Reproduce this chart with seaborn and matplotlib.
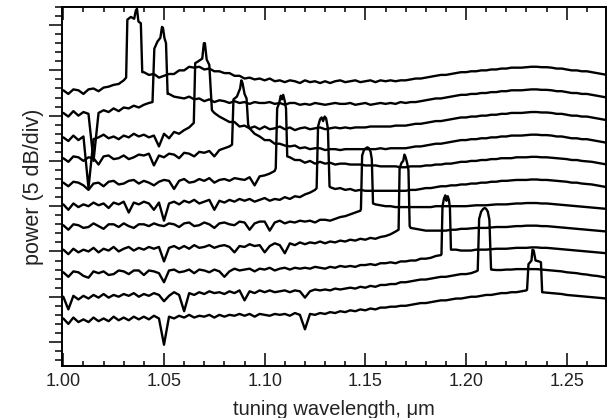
import numpy as np
import pandas as pd
import matplotlib
matplotlib.use("Agg")
import matplotlib.pyplot as plt
from matplotlib.ticker import MultipleLocator, FormatStrFormatter
import seaborn as sns

# sampling grid of the traces (tuning wavelength, um)
wavelength = np.round(np.arange(1.000, 1.27001, 0.0025), 4)

# background of each trace (dB, traces offset for display), rows of 0.01 um
trace_0 = [27.8, 27.4, 27.9, 27.8, 27.4, 27.9, 28.0, 27.7, 28.1, 28.2, 28.4, 28.5,
           28.9, 29.2, 29.4, 29.6, 29.8, 29.5, 29.6, 29.2, 29.4, 29.6, 29.6, 30.0,
           30.0, 30.4, 30.3, 30.4, 30.1, 30.2, 29.9, 29.9, 29.7, 29.7, 29.4, 29.4,
           29.1, 29.2, 29.0, 29.1, 28.9, 29.1, 28.8, 28.9, 28.7, 28.9, 28.8, 28.6,
           28.9, 28.7, 28.8, 28.6, 28.8, 28.6, 28.8, 28.9, 28.7, 28.8, 28.9, 28.7,
           28.8, 28.9, 28.7, 28.9, 28.8, 28.9, 28.8, 28.9, 28.9, 29.0, 29.1, 29.1,
           29.2, 29.3, 29.4, 29.5, 29.5, 29.6, 29.7, 29.8, 29.8, 29.9, 29.9, 30.0,
           30.0, 30.1, 30.1, 30.2, 30.2, 30.3, 30.3, 30.3, 30.35, 30.4, 30.4, 30.35,
           30.35, 30.3, 30.2, 30.2, 30.1, 30.0, 30.0, 29.9, 29.9, 29.8, 29.7, 29.6,
           29.5]
trace_1 = [25.3, 24.9, 25.5, 25.0, 25.4, 25.2, 20.0, 25.3, 25.6, 25.4, 25.8, 25.5,
           25.9, 25.8, 26.1, 25.9, 26.2, 26.4, 26.8, 27.0, 27.2, 27.4, 27.1, 27.0,
           26.9, 27.1, 26.8, 26.9, 26.6, 26.8, 26.5, 26.7, 26.6, 26.4, 26.6, 26.4,
           26.5, 26.3, 26.5, 26.4, 26.4, 26.5, 26.3, 26.4, 26.2, 26.4, 26.4, 26.2,
           26.3, 26.2, 26.4, 26.3, 26.2, 26.3, 26.4, 26.3, 26.3, 26.4, 26.2, 26.3,
           26.4, 26.2, 26.3, 26.4, 26.3, 26.4, 26.3, 26.5, 26.4, 26.5, 26.5, 26.6,
           26.7, 26.8, 26.9, 26.9, 27.0, 27.1, 27.2, 27.3, 27.3, 27.4, 27.4, 27.5,
           27.5, 27.6, 27.6, 27.7, 27.7, 27.8, 27.8, 27.8, 27.85, 27.9, 27.9, 27.85,
           27.85, 27.8, 27.7, 27.7, 27.6, 27.5, 27.5, 27.4, 27.4, 27.3, 27.2, 27.1,
           27.0]
trace_2 = [22.6, 22.2, 22.8, 22.3, 22.7, 17.0, 22.4, 22.6, 22.9, 22.5, 22.7, 22.4,
           22.8, 22.6, 23.0, 22.7, 22.9, 22.6, 22.8, 21.6, 23.0, 22.5, 23.2, 23.0,
           23.4, 23.7, 24.5, 26.0, 26.0, 26.0, 25.3, 24.9, 24.6, 24.3, 24.3, 23.8,
           23.9, 23.6, 23.8, 23.5, 23.8, 23.5, 23.6, 23.8, 23.5, 23.7, 23.4, 23.6,
           23.7, 23.5, 23.6, 23.7, 23.5, 23.6, 23.7, 23.6, 23.7, 23.6, 23.7, 23.7,
           23.7, 23.8, 23.8, 23.8, 23.8, 23.8, 23.9, 23.9, 23.9, 24.0, 24.1, 24.1,
           24.2, 24.3, 24.4, 24.4, 24.5, 24.6, 24.7, 24.8, 24.8, 24.9, 24.9, 25.0,
           25.0, 25.1, 25.1, 25.2, 25.2, 25.3, 25.3, 25.3, 25.35, 25.4, 25.4, 25.35,
           25.35, 25.3, 25.2, 25.2, 25.1, 25.0, 25.0, 24.9, 24.9, 24.8, 24.7, 24.6,
           24.5]
trace_3 = [20.3, 19.9, 20.5, 20.4, 20.0, 20.4, 20.3, 19.6, 20.5, 20.6, 20.2, 20.3,
           20.6, 20.2, 20.4, 20.7, 20.6, 20.8, 19.5, 20.6, 20.4, 20.8, 20.7, 20.3,
           20.9, 20.8, 20.5, 21.0, 20.9, 21.1, 20.5, 21.2, 21.4, 21.6, 22.0, 24.0,
           24.0, 23.6, 23.0, 22.7, 22.3, 22.3, 21.9, 21.9, 21.7, 21.6, 21.7, 21.4,
           21.5, 21.3, 21.4, 21.4, 21.2, 21.3, 21.3, 21.2, 21.3, 21.3, 21.3, 21.3,
           21.3, 21.3, 21.3, 21.4, 21.3, 21.4, 21.4, 21.4, 21.4, 21.5, 21.6, 21.6,
           21.7, 21.8, 21.9, 21.9, 22.0, 22.1, 22.2, 22.3, 22.3, 22.4, 22.4, 22.5,
           22.5, 22.6, 22.6, 22.7, 22.7, 22.8, 22.8, 22.8, 22.85, 22.9, 22.9, 22.85,
           22.85, 22.8, 22.7, 22.7, 22.6, 22.5, 22.5, 22.4, 22.4, 22.3, 22.2, 22.1,
           22.0]
trace_4 = [17.6, 17.2, 17.7, 17.6, 17.3, 16.8, 17.5, 17.6, 17.2, 17.7, 17.8, 17.4,
           17.5, 17.8, 17.9, 17.5, 17.8, 17.6, 17.3, 17.7, 17.9, 17.8, 16.9, 17.8,
           18.0, 17.6, 17.7, 18.0, 17.8, 18.1, 17.6, 17.9, 18.0, 17.8, 18.1, 18.0,
           17.9, 18.2, 17.3, 18.3, 18.4, 18.6, 18.9, 22.0, 22.0, 20.4, 20.1, 20.1,
           19.8, 20.0, 19.7, 19.9, 19.7, 19.8, 19.6, 19.7, 19.7, 19.6, 19.6, 19.6,
           19.5, 19.5, 19.5, 19.4, 19.4, 19.4, 19.4, 19.3, 19.3, 19.4, 19.4, 19.4,
           19.5, 19.5, 19.6, 19.6, 19.7, 19.7, 19.8, 19.9, 19.9, 20.0, 20.0, 20.1,
           20.1, 20.2, 20.2, 20.3, 20.3, 20.3, 20.4, 20.4, 20.4, 20.45, 20.45, 20.4,
           20.4, 20.35, 20.3, 20.25, 20.2, 20.1, 20.1, 20.0, 19.95, 19.9, 19.8, 19.7,
           19.6]
trace_5 = [15.2, 14.6, 15.3, 14.9, 15.2, 15.0, 15.4, 15.1, 15.3, 14.8, 15.4, 15.2,
           15.5, 14.3, 15.4, 15.2, 15.5, 15.3, 14.6, 15.4, 13.4, 15.3, 15.5, 15.2,
           15.6, 15.4, 15.7, 15.3, 15.5, 15.7, 14.6, 15.6, 15.4, 15.7, 15.5, 15.8,
           15.6, 15.8, 15.5, 15.7, 15.9, 15.6, 15.8, 15.7, 16.0, 15.8, 16.1, 16.0,
           16.3, 16.5, 16.8, 19.0, 19.0, 17.1, 16.9, 17.0, 16.8, 16.9, 16.7, 16.8,
           16.7, 16.7, 16.7, 16.7, 16.7, 16.7, 16.7, 16.7, 16.7, 16.8, 16.8, 16.9,
           17.0, 17.0, 17.1, 17.2, 17.2, 17.3, 17.3, 17.4, 17.4, 17.5, 17.5, 17.6,
           17.6, 17.7, 17.7, 17.8, 17.8, 17.85, 17.9, 17.9, 17.9, 17.95, 17.95, 17.9,
           17.9, 17.85, 17.8, 17.75, 17.7, 17.6, 17.6, 17.5, 17.45, 17.4, 17.3, 17.2,
           17.1]
trace_6 = [12.9, 12.4, 13.0, 12.9, 12.6, 12.7, 13.1, 12.8, 12.5, 13.0, 13.0, 12.7,
           13.1, 12.8, 12.6, 13.0, 13.0, 12.8, 13.1, 12.9, 12.8, 13.1, 13.0, 12.7,
           13.1, 13.2, 12.8, 12.9, 13.2, 13.0, 12.6, 13.1, 13.2, 13.0, 12.9, 13.3,
           13.2, 12.4, 13.1, 13.3, 13.3, 12.3, 13.2, 13.4, 13.1, 13.3, 13.2, 13.4,
           13.3, 13.4, 13.2, 13.5, 13.5, 13.4, 13.6, 13.8, 13.9, 14.1, 14.3, 14.5,
           16.0, 18.0, 15.2, 15.1, 15.0, 15.0, 14.9, 14.9, 14.9, 14.9, 14.9, 14.9,
           14.9, 14.9, 15.0, 15.0, 15.0, 15.0, 15.0, 15.0, 15.0, 15.05, 15.1, 15.1,
           15.1, 15.15, 15.2, 15.2, 15.2, 15.25, 15.3, 15.3, 15.35, 15.35, 15.35, 15.3,
           15.3, 15.25, 15.2, 15.15, 15.1, 15.05, 15.0, 14.95, 14.9, 14.85, 14.8, 14.75,
           14.7]
trace_7 = [10.2, 9.7, 10.3, 9.9, 10.2, 10.0, 10.4, 9.9, 10.3, 10.1, 10.5, 10.0,
           10.3, 10.5, 10.1, 10.4, 10.2, 10.5, 10.3, 10.5, 8.9, 10.4, 10.6, 10.3,
           10.6, 10.3, 10.7, 10.4, 10.5, 10.7, 10.4, 10.6, 10.7, 10.5, 9.9, 10.6,
           10.5, 10.8, 10.6, 10.7, 9.9, 10.6, 10.9, 10.7, 9.8, 10.9, 10.7, 11.0,
           10.8, 11.0, 10.9, 11.1, 10.9, 11.1, 11.0, 11.2, 11.1, 11.3, 11.2, 11.4,
           11.3, 11.5, 11.4, 11.6, 11.7, 11.9, 12.2, 14.0, 16.0, 12.6, 12.5, 12.4,
           12.3, 12.3, 12.3, 12.3, 12.3, 12.4, 12.4, 12.5, 12.5, 12.55, 12.6, 12.6,
           12.6, 12.65, 12.7, 12.7, 12.7, 12.75, 12.8, 12.8, 12.85, 12.85, 12.85, 12.8,
           12.8, 12.75, 12.7, 12.65, 12.6, 12.55, 12.5, 12.45, 12.4, 12.35, 12.3, 12.25,
           12.2]
trace_8 = [7.7, 7.2, 7.8, 7.7, 7.3, 7.1, 7.8, 7.6, 7.8, 7.4, 7.5, 7.9,
           7.8, 7.5, 7.9, 7.9, 7.4, 7.9, 7.8, 7.6, 6.6, 7.9, 8.0, 7.7,
           7.8, 8.0, 7.6, 8.0, 7.9, 7.7, 8.0, 7.8, 7.2, 7.8, 8.1, 7.9,
           8.0, 8.1, 7.8, 8.1, 8.0, 8.2, 7.9, 8.1, 8.2, 8.0, 8.2, 8.1,
           8.2, 8.1, 8.3, 8.2, 8.1, 8.3, 8.2, 8.4, 8.3, 8.4, 8.3, 8.5,
           8.5, 8.6, 8.5, 8.7, 8.7, 8.8, 8.7, 8.9, 8.9, 9.0, 9.0, 9.2,
           9.2, 9.3, 9.5, 9.6, 12.0, 12.0, 10.2, 10.1, 10.1, 10.1, 10.2, 10.2,
           10.2, 10.25, 10.3, 10.3, 10.3, 10.35, 10.4, 10.4, 10.4, 10.45, 10.45, 10.4,
           10.4, 10.35, 10.3, 10.25, 10.2, 10.15, 10.1, 10.05, 10.0, 9.95, 9.9, 9.85,
           9.8]
trace_9 = [5.0, 3.6, 5.1, 4.7, 5.1, 4.8, 5.2, 4.9, 5.3, 4.9, 5.2, 5.0,
           5.3, 5.1, 5.4, 5.0, 5.3, 5.1, 5.4, 5.2, 4.5, 5.1, 5.5, 5.2,
           3.4, 5.4, 5.2, 5.5, 5.3, 5.6, 5.4, 5.5, 5.3, 5.6, 5.4, 5.7,
           4.6, 5.6, 5.4, 5.7, 5.5, 5.7, 5.5, 5.6, 5.7, 5.5, 5.7, 5.6,
           4.9, 5.6, 5.8, 5.7, 5.8, 5.7, 5.9, 5.8, 5.9, 6.0, 5.9, 6.1,
           6.0, 6.2, 6.1, 6.3, 6.3, 6.4, 6.4, 6.6, 6.6, 6.7, 6.8, 6.9,
           6.9, 7.0, 7.1, 7.2, 7.2, 7.3, 7.4, 7.5, 7.5, 7.6, 7.8, 10.0,
           10.0, 8.0, 7.95, 7.95, 8.0, 8.0, 8.05, 8.05, 8.05, 8.05, 8.05, 8.0,
           7.95, 7.9, 7.85, 7.8, 7.7, 7.65, 7.6, 7.5, 7.45, 7.35, 7.3, 7.2,
           7.1]
trace_10 = [2.6, 2.0, 2.7, 2.2, 2.5, 2.2, 2.7, 2.3, 2.6, 2.3, 2.8, 2.4,
            2.7, 2.4, 2.8, 2.5, 2.8, 2.5, 2.9, 2.6, -0.3, 2.8, 2.6, 2.9,
            2.7, 3.0, 2.7, 2.9, 2.8, 3.0, 2.7, 3.0, 2.8, 3.0, 2.9, 3.1,
            2.9, 3.1, 2.8, 3.1, 3.0, 2.9, 3.1, 3.0, 3.1, 2.9, 3.2, 3.0,
            1.4, 3.1, 3.0, 3.2, 3.1, 3.3, 3.2, 3.4, 3.3, 3.5, 3.4, 3.6,
            3.5, 3.7, 3.6, 3.8, 3.8, 3.9, 3.9, 4.0, 4.0, 4.1, 4.2, 4.3,
            4.3, 4.4, 4.5, 4.6, 4.6, 4.7, 4.8, 4.8, 4.9, 5.0, 5.0, 5.1,
            5.2, 5.2, 5.3, 5.4, 5.4, 5.5, 5.5, 5.6, 5.7, 8.0, 8.0, 8.0,
            5.45, 5.4, 5.35, 5.3, 5.2, 5.15, 5.1, 5.05, 5.0, 4.95, 4.9, 4.85,
            4.8]

# laser lines (finely sampled peak profiles)
peak_x_0 = [1.0312, 1.0318, 1.0335, 1.0352, 1.0360, 1.0366, 1.0373, 1.0385, 1.0392]
peak_y_0 = [29.2, 35.6, 35.9, 35.7, 36.6, 36.8, 35.4, 35.2, 29.8]
peak_x_1 = [1.0443, 1.0452, 1.0468, 1.0482, 1.0490, 1.0495, 1.0502, 1.0510, 1.0518]
peak_y_1 = [26.5, 32.4, 33.2, 33.6, 34.8, 34.7, 33.6, 33.0, 27.4]
peak_x_2 = [1.0648, 1.0655, 1.0670, 1.0690, 1.0698, 1.0703, 1.0712, 1.0725, 1.0738]
peak_y_2 = [24.2, 30.8, 31.0, 31.3, 33.0, 33.0, 31.2, 30.6, 25.6]
peak_x_3 = [1.0838, 1.0845, 1.0862, 1.0878, 1.0884, 1.0890, 1.0900, 1.0910, 1.0918]
peak_y_3 = [21.8, 26.8, 27.1, 28.0, 28.9, 28.6, 27.4, 26.9, 24.0]
peak_x_4 = [1.1055, 1.1062, 1.1072, 1.1080, 1.1086, 1.1092, 1.1100, 1.1106, 1.1112]
peak_y_4 = [19.2, 25.8, 26.4, 27.2, 26.8, 27.3, 26.6, 25.8, 20.5]
peak_x_5 = [1.1258, 1.1265, 1.1275, 1.1283, 1.1290, 1.1298, 1.1305, 1.1314, 1.1322]
peak_y_5 = [17.0, 23.8, 24.6, 24.8, 24.4, 24.9, 24.7, 23.6, 17.2]
peak_x_6 = [1.1478, 1.1484, 1.1493, 1.1502, 1.1510, 1.1518, 1.1526, 1.1532, 1.1538]
peak_y_6 = [14.7, 20.6, 21.2, 21.4, 21.5, 21.4, 21.0, 20.2, 15.3]
peak_x_7 = [1.1665, 1.1670, 1.1680, 1.1688, 1.1694, 1.1700, 1.1707, 1.1714, 1.1720]
peak_y_7 = [12.4, 19.2, 19.8, 20.0, 20.7, 20.4, 19.8, 19.0, 12.8]
peak_x_8 = [1.1878, 1.1883, 1.1890, 1.1897, 1.1903, 1.1909, 1.1915, 1.1920, 1.1925]
peak_y_8 = [9.7, 15.0, 15.8, 16.2, 15.6, 16.1, 15.7, 14.8, 10.2]
peak_x_9 = [1.2058, 1.2065, 1.2075, 1.2085, 1.2093, 1.2100, 1.2108, 1.2116, 1.2124]
peak_y_9 = [7.9, 13.6, 14.4, 14.7, 14.8, 14.7, 14.4, 13.5, 8.1]
peak_x_10 = [1.2303, 1.2310, 1.2318, 1.2325, 1.2330, 1.2336, 1.2345, 1.2362, 1.2372, 1.2378]
peak_y_10 = [5.8, 8.6, 8.8, 9.0, 10.2, 10.1, 9.0, 8.9, 8.8, 5.5]

backgrounds = [trace_0, trace_1, trace_2, trace_3, trace_4, trace_5,
               trace_6, trace_7, trace_8, trace_9, trace_10]
peaks_x = [peak_x_0, peak_x_1, peak_x_2, peak_x_3, peak_x_4, peak_x_5,
           peak_x_6, peak_x_7, peak_x_8, peak_x_9, peak_x_10]
peaks_y = [peak_y_0, peak_y_1, peak_y_2, peak_y_3, peak_y_4, peak_y_5,
           peak_y_6, peak_y_7, peak_y_8, peak_y_9, peak_y_10]

frames = []
for i, (bg, px, py) in enumerate(zip(backgrounds, peaks_x, peaks_y)):
    bg = np.asarray(bg, dtype=float)
    assert len(bg) == len(wavelength), (i, len(bg))
    keep = (wavelength < px[0]) | (wavelength > px[-1])
    x = np.concatenate([wavelength[keep], px])
    y = np.concatenate([bg[keep], py])
    order = np.argsort(x, kind="stable")
    frames.append(pd.DataFrame({"wavelength": x[order], "power": y[order], "trace": i}))
df = pd.concat(frames, ignore_index=True)

sns.set_style("ticks")
plt.rcParams["font.family"] = ["Liberation Sans", "DejaVu Sans"]

fig = plt.figure(figsize=(6.07, 4.18), dpi=100)
ax = fig.add_axes([62 / 607, 52 / 418, 544 / 607, 359 / 418])

sns.lineplot(data=df, x="wavelength", y="power", units="trace", estimator=None,
             sort=False, color="black", linewidth=1.7, ax=ax, legend=False)

ax.set_xlim(0.99935, 1.2695)
ax.set_ylim(-2.65, 37.0)

ax.xaxis.set_major_locator(MultipleLocator(0.05))
ax.xaxis.set_minor_locator(MultipleLocator(0.01))
ax.xaxis.set_major_formatter(FormatStrFormatter("%.2f"))
ax.yaxis.set_major_locator(MultipleLocator(5))
ax.yaxis.set_minor_locator(MultipleLocator(1))
ax.set_yticklabels([])

ax.tick_params(axis="x", which="both", direction="in", top=True, bottom=True,
               labelsize=13, pad=5, width=1.1, color="black", labelcolor="#222222")
ax.tick_params(axis="x", which="major", length=9.5)
ax.tick_params(axis="x", which="minor", length=3.8)
ax.tick_params(axis="y", which="both", direction="out", left=True, right=False,
               width=1.1, color="black")
ax.tick_params(axis="y", which="major", length=9.5)
ax.tick_params(axis="y", which="minor", length=5.0)

for s in ax.spines.values():
    s.set_visible(True)
    s.set_linewidth(1.4)
    s.set_color("black")

ax.set_xlabel("tuning wavelength, μm", fontsize=14.5, color="#222222", labelpad=7)
ax.set_ylabel("power (5 dB/div)", fontsize=15.5, color="#222222", labelpad=0)

fig.savefig("out.png", dpi=100)
